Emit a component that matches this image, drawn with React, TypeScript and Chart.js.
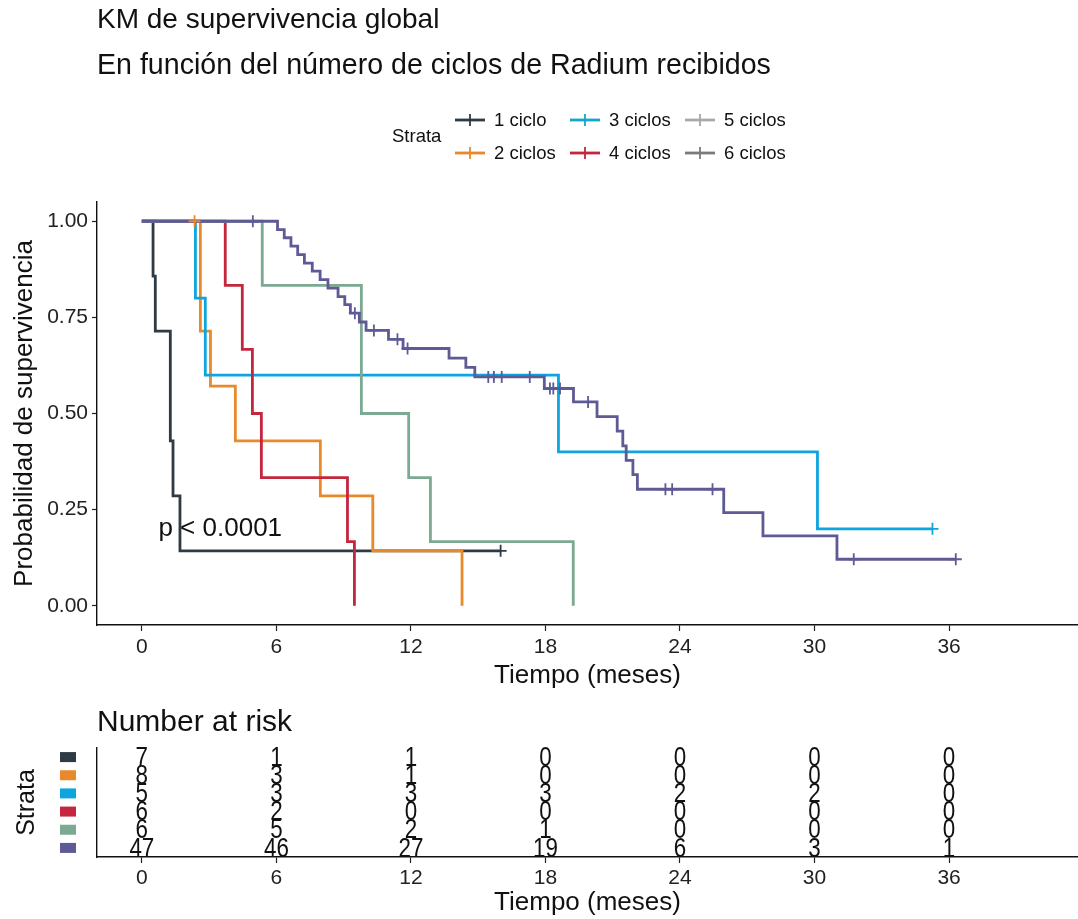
import React, { useEffect, useRef } from "react";
import { Chart, registerables } from "chart.js";

Chart.register(...registerables);

const FONT = '"Liberation Sans", Arial, Helvetica, sans-serif';

// ---- Data ----
const STRATA = ["1 ciclo", "2 ciclos", "3 ciclos", "4 ciclos", "5 ciclos", "6 ciclos"];
const COLORS = ["#2E3B45", "#E8892B", "#0EA5DE", "#C3263D", "#7CA991", "#5E5A95"];
const LEGEND_COLORS = ["#2E3B45", "#E8892B", "#12A8C8", "#C3263D", "#A9A9A9", "#7A7A7A"];

// time of each drop (months) and survival just after it; censor times
const T1 = [0.5, 0.6, 1.27, 1.39, 1.7];
const S1 = [0.857, 0.714, 0.429, 0.286, 0.143];
const C1 = [16.0];

const T2 = [2.61, 3.06, 4.17, 7.96, 10.3, 14.28];
const S2 = [0.714, 0.571, 0.429, 0.286, 0.143, 0];
const C2 = [2.35];

const T3 = [2.39, 2.83, 18.58, 30.13];
const S3 = [0.8, 0.6, 0.4, 0.2];
const C3 = [35.26];

const T4 = [3.72, 4.48, 4.93, 5.33, 9.17, 9.48];
const S4 = [0.833, 0.667, 0.5, 0.333, 0.167, 0];
const C4: number[] = [];

const T5 = [5.37, 9.79, 11.9, 12.87, 19.24];
const S5 = [0.833, 0.5, 0.333, 0.167, 0];
const C5: number[] = [];

const T6 = [6.05, 6.35, 6.65, 6.95, 7.25, 7.6, 7.95, 8.3, 8.75, 9.05, 9.3, 9.7, 10.0, 11.0, 11.65,
  13.7, 14.45, 14.85, 17.95, 19.25, 20.3, 21.2, 21.45, 21.6, 21.9, 22.1, 25.95, 27.7, 31.0];
const S6 = [0.978, 0.957, 0.935, 0.913, 0.891, 0.870, 0.848, 0.826, 0.804, 0.783, 0.761, 0.738, 0.716, 0.693, 0.669,
  0.644, 0.620, 0.595, 0.565, 0.530, 0.492, 0.454, 0.416, 0.378, 0.341, 0.303, 0.242, 0.182, 0.121];
const C6 = [4.95, 9.5, 10.35, 11.4, 11.85, 15.45, 15.7, 16.05, 17.3, 18.2, 18.35, 18.65, 19.9, 23.35, 23.65, 25.45, 31.75, 36.3];

const TIMES = [T1, T2, T3, T4, T5, T6];
const SURV = [S1, S2, S3, S4, S5, S6];
const CENS = [C1, C2, C3, C4, C5, C6];

const X_TICKS = [0, 6, 12, 18, 24, 30, 36];
const Y_TICKS = [0, 0.25, 0.5, 0.75, 1];

const RISK_TIMES = [0, 6, 12, 18, 24, 30, 36];
const R1 = [7, 1, 1, 0, 0, 0, 0];
const R2 = [8, 3, 1, 0, 0, 0, 0];
const R3 = [5, 3, 3, 3, 2, 2, 0];
const R4 = [6, 2, 0, 0, 0, 0, 0];
const R5 = [6, 5, 2, 1, 0, 0, 0];
const R6 = [47, 46, 27, 19, 6, 3, 1];
const RISK = [R1, R2, R3, R4, R5, R6];

const PVAL_TEXT = "p < 0.0001";
const PVAL_X = 0.74;
const PVAL_Y = 0.2;

// ---- helpers ----
function survAt(T: number[], S: number[], t: number) {
  let s = 1;
  for (let i = 0; i < T.length; i++) if (T[i] <= t) s = S[i];
  return s;
}

function stepPoints(T: number[], S: number[], C: number[]) {
  const pts = [{ x: 0, y: 1 }];
  T.forEach((t, i) => pts.push({ x: t, y: S[i] }));
  const lastT = T.length ? T[T.length - 1] : 0;
  const lastC = C.length ? Math.max(...C) : 0;
  if (lastC > lastT) pts.push({ x: lastC, y: S.length ? S[S.length - 1] : 1 });
  return pts;
}

const X_MIN = -2;
const X_MAX = 41.75;

const pvalPlugin = {
  id: "pval",
  afterDatasetsDraw(chart: any) {
    const { ctx, scales } = chart;
    ctx.save();
    ctx.font = `26px ${FONT}`;
    ctx.fillStyle = "#111";
    ctx.textAlign = "left";
    ctx.textBaseline = "middle";
    ctx.fillText(PVAL_TEXT, scales.x.getPixelForValue(PVAL_X), scales.y.getPixelForValue(PVAL_Y));
    ctx.restore();
  },
};

const riskPlugin = {
  id: "risktext",
  afterDatasetsDraw(chart: any) {
    const { ctx, scales } = chart;
    ctx.save();
    ctx.fillStyle = "#111";
    ctx.textAlign = "center";
    ctx.textBaseline = "middle";
    ctx.font = `28px ${FONT}`;
    chart.data.datasets.forEach((ds: any, i: number) => {
      const meta = chart.getDatasetMeta(i);
      meta.data.forEach((el: any, j: number) => {
        ctx.save();
        ctx.translate(el.x, el.y + 1);
        ctx.scale(0.8, 1);
        ctx.fillText(String(ds.data[j].n), 0, 0);
        ctx.restore();
      });
    });
    // coloured strata keys on the y axis
    STRATA.forEach((_, i) => {
      const y = scales.y.getPixelForValue(i);
      ctx.fillStyle = COLORS[i];
      ctx.fillRect(60, y - 5, 16, 10);
    });
    ctx.restore();
  },
};

function xAxis(height: number, tickPad: number, titlePadBottom: number) {
  return {
    type: "linear" as const,
    min: X_MIN,
    max: X_MAX,
    afterBuildTicks: (s: any) => {
      s.ticks = X_TICKS.map((v) => ({ value: v }));
    },
    afterFit: (s: any) => {
      s.height = height;
    },
    grid: { display: true, drawOnChartArea: false, drawTicks: true, tickLength: 6, tickColor: "#222", tickWidth: 1.2 },
    border: { display: true, color: "#111", width: 1.4 },
    ticks: { color: "#222", font: { size: 21, family: FONT }, padding: tickPad, maxRotation: 0, autoSkip: false },
    title: {
      display: true,
      text: "Tiempo (meses)",
      color: "#111",
      font: { size: 26, family: FONT },
      padding: { top: 0, bottom: titlePadBottom },
    },
  };
}

export default function App() {
  const mainRef = useRef<HTMLCanvasElement>(null);
  const riskRef = useRef<HTMLCanvasElement>(null);

  useEffect(() => {
    Chart.defaults.font.family = FONT;
    const lineSets = STRATA.map((name, i) => ({
      label: name,
      data: stepPoints(TIMES[i], SURV[i], CENS[i]),
      showLine: true,
      stepped: "before" as const,
      borderColor: COLORS[i],
      borderWidth: 2.8,
      pointRadius: 0,
      fill: false,
      order: 20 - i,
    }));
    const censorSets = STRATA.map((name, i) => ({
      label: name + " censor",
      data: CENS[i].map((c) => ({ x: c, y: survAt(TIMES[i], SURV[i], c) })),
      showLine: false,
      pointStyle: "cross" as const,
      pointRadius: 6,
      pointBorderWidth: 1.8,
      pointBorderColor: COLORS[i],
      pointBackgroundColor: COLORS[i],
      order: 10 - i,
    }));

    const main = new Chart(mainRef.current!, {
      type: "scatter",
      data: { datasets: [...lineSets, ...censorSets] as any },
      options: {
        responsive: false,
        animation: false,
        layout: { autoPadding: false, padding: { top: 202, left: 0, right: 0, bottom: 0 } },
        plugins: { legend: { display: false }, tooltip: { enabled: false } },
        scales: {
          x: xAxis(75, 4, 9) as any,
          y: {
            type: "linear",
            min: -0.05,
            max: 1.05,
            afterBuildTicks: (s: any) => {
              s.ticks = Y_TICKS.map((v) => ({ value: v }));
            },
            afterFit: (s: any) => {
              s.width = 97;
            },
            grid: { display: true, drawOnChartArea: false, drawTicks: true, tickLength: 5, tickColor: "#222", tickWidth: 1.2 },
            border: { display: true, color: "#111", width: 1.4 },
            ticks: {
              color: "#222",
              font: { size: 21, family: FONT },
              padding: 4,
              callback: (v: any) => Number(v).toFixed(2),
            },
            title: {
              display: true,
              text: "Probabilidad de supervivencia",
              color: "#111",
              font: { size: 26, family: FONT },
              padding: { top: 9, bottom: 0 },
            },
          },
        },
      },
      plugins: [pvalPlugin],
    });

    const riskSets = STRATA.map((name, i) => ({
      label: name,
      data: RISK_TIMES.map((t, j) => ({ x: t, y: name, n: RISK[i][j] })),
      pointRadius: 0,
      showLine: false,
    }));

    const risk = new Chart(riskRef.current!, {
      type: "scatter",
      data: { datasets: riskSets as any },
      options: {
        responsive: false,
        animation: false,
        layout: { autoPadding: false, padding: { top: 48, left: 0, right: 0, bottom: 0 } },
        plugins: { legend: { display: false }, tooltip: { enabled: false } },
        scales: {
          x: xAxis(62, 3, 1) as any,
          y: {
            type: "category",
            labels: STRATA,
            offset: true,
            afterFit: (s: any) => {
              s.width = 97;
            },
            grid: { display: false },
            border: { display: true, color: "#111", width: 1.4 },
            ticks: { display: false },
            title: {
              display: true,
              text: "Strata",
              color: "#111",
              font: { size: 25, family: FONT },
              padding: { top: 12, bottom: 0 },
            },
          } as any,
        },
      },
      plugins: [riskPlugin],
    });

    return () => {
      main.destroy();
      risk.destroy();
    };
  }, []);

  const colX = [455, 570, 685];
  const rowY = [120, 153];
  const legendOrder = [
    [0, 2, 4],
    [1, 3, 5],
  ];

  return (
    <div
      style={{
        position: "absolute",
        left: 0,
        top: 0,
        width: 1078,
        height: 919,
        overflow: "hidden",
        background: "#ffffff",
        fontFamily: FONT,
        color: "#111",
      }}
    >
      <canvas ref={mainRef} width={1078} height={700} style={{ position: "absolute", left: 0, top: 0 }} />
      <canvas ref={riskRef} width={1078} height={219} style={{ position: "absolute", left: 0, top: 700 }} />
      <div style={{ position: "absolute", left: 97, top: 3, fontSize: 28, lineHeight: "32px", whiteSpace: "nowrap" }}>
        KM de supervivencia global
      </div>
      <div style={{ position: "absolute", left: 97, top: 48, fontSize: 28.6, lineHeight: "32px", whiteSpace: "nowrap" }}>
        En función del número de ciclos de Radium recibidos
      </div>
      <div style={{ position: "absolute", left: 392, top: 136 - 12, fontSize: 18.5, lineHeight: "24px", whiteSpace: "nowrap" }}>
        Strata
      </div>
      {legendOrder.map((row, r) =>
        row.map((si, c) => (
          <div key={si} style={{ position: "absolute", left: colX[c], top: rowY[r] - 12, height: 24, whiteSpace: "nowrap" }}>
            <svg width={30} height={24} style={{ position: "absolute", left: 0, top: 0 }}>
              <line x1={0} y1={12} x2={30} y2={12} stroke={LEGEND_COLORS[si]} strokeWidth={2.8} />
              <line x1={15} y1={6} x2={15} y2={18} stroke={LEGEND_COLORS[si]} strokeWidth={1.8} />
            </svg>
            <span style={{ position: "absolute", left: 39, top: 0, fontSize: 18.5, lineHeight: "24px" }}>{STRATA[si]}</span>
          </div>
        ))
      )}
      <div style={{ position: "absolute", left: 97, top: 704, fontSize: 30, lineHeight: "34px", whiteSpace: "nowrap" }}>
        Number at risk
      </div>
    </div>
  );
}
